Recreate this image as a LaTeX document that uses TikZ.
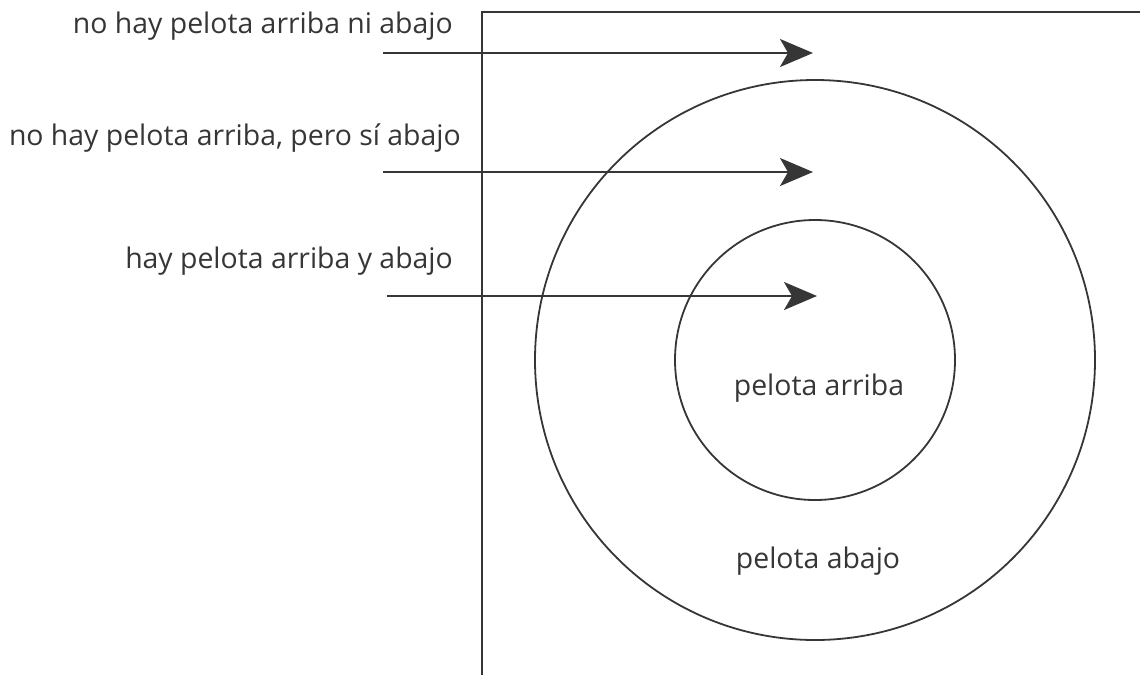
\documentclass[tikz,border=0pt]{standalone}
\usepackage{fontspec}
\setmainfont{Open Sans}
\usetikzlibrary{arrows.meta}
\definecolor{ink}{HTML}{363636}
\tikzset{
  lbl/.style={inner sep=0pt, text=ink, font=\fontsize{28.4}{34}\selectfont},
  frameline/.style={draw=ink, line width=2pt},
  arr/.style={draw=ink, line width=2pt, -{Stealth[length=33pt,width=28pt,inset=8pt]}},
  ring/.style={draw=ink, line width=1.8pt, circle, inner sep=0pt}
}
\begin{document}
\begin{tikzpicture}[x=1pt,y=-1pt]
\useasboundingbox (0,0) rectangle (1140,675);
% frame
\coordinate (fb) at (482,675);
\coordinate (fc) at (482,12);
\coordinate (fr) at (1140,12);
\draw[frameline] (fb) -- (fc) -- (fr);
% circles
\node[ring, minimum size=560pt] (outer) at (815,360) {};
\node[ring, minimum size=280pt] (inner) at (815,360) {};
% labels
\node[lbl, anchor=base east] (t1) at (453,33) {no hay pelota arriba ni abajo};
\node[lbl, anchor=base east] (t2) at (461,145) {no hay pelota arriba, pero sí abajo};
\node[lbl, anchor=base east] (t3) at (453,268) {hay pelota arriba y abajo};
\node[lbl, anchor=base] (pa) at (819,395) {pelota arriba};
\node[lbl, anchor=base] (pb) at (818,568) {pelota abajo};
% arrows
\coordinate (a1s) at (383,53);
\coordinate (a1e) at (813,53);
\coordinate (a2s) at (383,172);
\coordinate (a2e) at (813,172);
\coordinate (a3s) at (387,296);
\coordinate (a3e) at (817,296);
\draw[arr] (a1s) -- (a1e);
\draw[arr] (a2s) -- (a2e);
\draw[arr] (a3s) -- (a3e);
\end{tikzpicture}
\end{document}
